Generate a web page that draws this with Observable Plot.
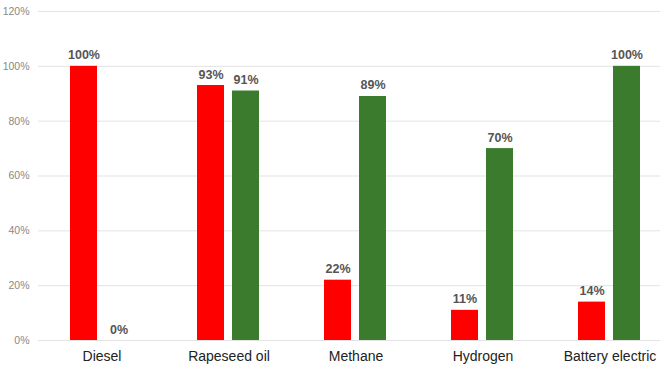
<!DOCTYPE html>
<html><head><meta charset="utf-8">
<script src="https://cdn.jsdelivr.net/npm/d3@7"></script>
<script src="https://cdn.jsdelivr.net/npm/@observablehq/plot@0.6"></script>
<style>body{margin:0;background:#fff;font-family:Arial,"Liberation Sans",sans-serif}</style>
</head><body><div id="chart"></div>
<script>
const categories = ["Diesel","Rapeseed oil","Methane","Hydrogen","Battery electric"];
const seriesNames = ["A","B"];
const valuesA = [100,93,22,11,14];
const valuesB = [0,91,89,70,100];
const yTicks = [0,20,40,60,80,100,120];
const colors = ["#ff0000","#3a7b2d"];

const data = [];
categories.forEach((c,i)=>{
  data.push({cat:c, s:seriesNames[0], v:valuesA[i]});
  data.push({cat:c, s:seriesNames[1], v:valuesB[i]});
});

const chart = Plot.plot({
  width: 660, height: 371,
  marginLeft: 38, marginRight: 0, marginTop: 11, marginBottom: 31,
  style: {fontFamily: "Arial, 'Liberation Sans', sans-serif", background: "#fff"},
  fx: {domain: categories, range: [37.5, 672.5], padding: 0, label: null, axis: null},
  x: {domain: seriesNames, paddingInner: 0.222, paddingOuter: 0.875, axis: null},
  y: {domain: [0,120], ticks: yTicks, label: null, axis: null},
  color: {domain: seriesNames, range: colors},
  marks: [
    Plot.ruleY(yTicks, {stroke: "#e3e3e3", strokeWidth: 1}),
    Plot.axisY({ticks: yTicks, tickSize: 0, tickPadding: 9, tickFormat: d=>d+"%", label: null, fill: "#888", fontSize: 10.5}),
    Plot.barY(data, {fx: "cat", x: "s", y: "v", fill: "s"}),
    Plot.text(data, {fx: "cat", x: "s", y: "v", text: d=>d.v+"%", lineAnchor: "bottom", dy: -7, fill: "#555", fontWeight: "bold", fontSize: 12.5}),
    Plot.text(categories, {fx: d=>d, frameAnchor: "bottom", text: d=>d, lineAnchor: "middle", dy: 16, fill: "#222", fontSize: 14})
  ]
});
document.getElementById("chart").appendChild(chart);
</script></body></html>
